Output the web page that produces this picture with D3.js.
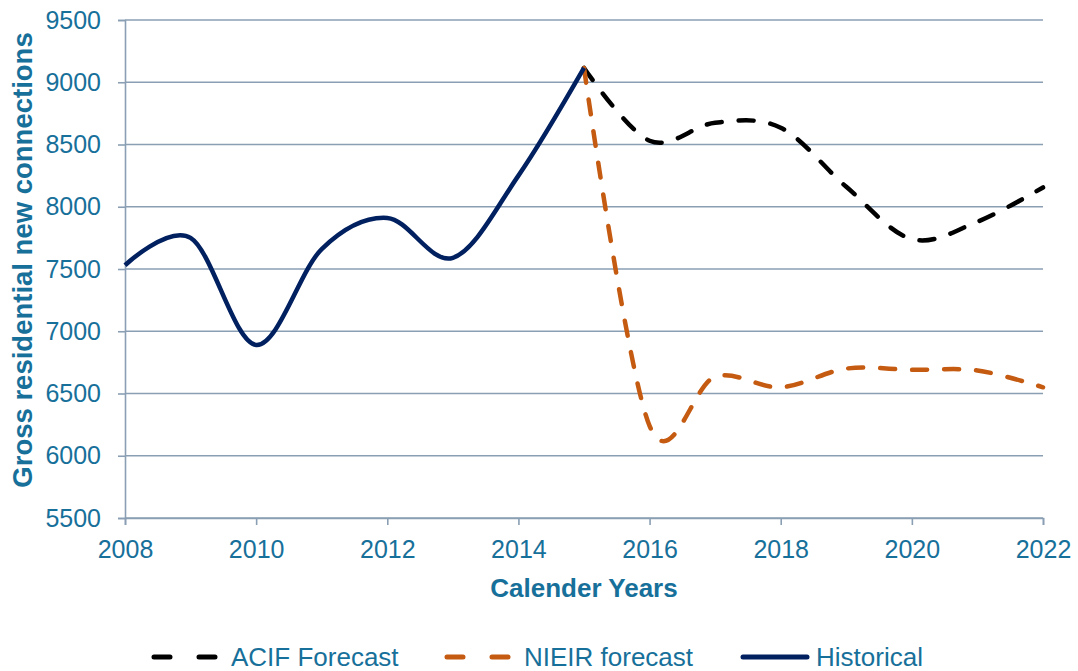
<!DOCTYPE html>
<html>
<head>
<meta charset="utf-8">
<script src="https://cdn.jsdelivr.net/npm/d3@7"></script>
<style>
  body { margin: 0; background: #fff; }
  text { font-family: "Liberation Sans", Arial, sans-serif; fill: #17709A; }
</style>
</head>
<body>
<svg id="chart" width="1078" height="671"></svg>
<script>
// data
var years = [2008, 2009, 2010, 2011, 2012, 2013, 2014, 2015, 2016, 2017, 2018, 2019, 2020, 2021, 2022];
var historical = [7530, 7750, 6890, 7660, 7910, 7590, 8250, 9115];
var acifYears = [2015, 2016, 2017, 2018, 2019, 2020, 2021, 2022];
var acif = [9115, 8530, 8675, 8635, 8160, 7740, 7880, 8155];
var nieir = [9115, 6240, 6635, 6550, 6700, 6690, 6685, 6550];
var yTicks = [5500, 6000, 6500, 7000, 7500, 8000, 8500, 9000, 9500];
var xTicks = [2008, 2010, 2012, 2014, 2016, 2018, 2020, 2022];

var svg = d3.select('#chart');
var pLeft = 125, pRight = 1043, pTop = 20, pBottom = 518;

var x = d3.scaleLinear().domain([2008, 2022]).range([pLeft, pRight]);
var y = d3.scaleLinear().domain([5500, 9500]).range([pBottom, pTop]);

var gridColor = '#8A9FB4';

// gridlines
svg.append('g')
    .selectAll('line')
    .data(yTicks)
    .enter().append('line')
    .attr('x1', pLeft).attr('x2', pRight)
    .attr('y1', d => y(d)).attr('y2', d => y(d))
    .attr('stroke', gridColor)
    .attr('stroke-width', 1.6);

// y axis
var yAxis = svg.append('g')
    .attr('transform', 'translate(' + pLeft + ',0)')
    .call(d3.axisLeft(y).tickValues(yTicks).tickSize(7).tickPadding(17).tickFormat(d3.format('d')));

// x axis
var xAxis = svg.append('g')
    .attr('transform', 'translate(0,' + pBottom + ')')
    .call(d3.axisBottom(x).tickValues(xTicks).tickSize(7).tickPadding(13).tickFormat(d3.format('d')));

[yAxis, xAxis].forEach(function (g) {
    g.select('.domain').attr('stroke', gridColor).attr('stroke-width', 1.6);
    g.selectAll('.tick line').attr('stroke', gridColor).attr('stroke-width', 1.6);
    g.selectAll('.tick text')
        .attr('fill', '#17709A')
        .style('font-size', '25px')
        .style('font-family', '"Liberation Sans", Arial, sans-serif');
});
xAxis.selectAll('.tick text').attr('dy', '0.8em');

// axis titles
svg.append('text')
    .attr('x', 584).attr('y', 597)
    .attr('text-anchor', 'middle')
    .style('font-size', '26px').style('font-weight', 'bold')
    .text('Calender Years');

svg.append('text')
    .attr('transform', 'translate(32,' + 260 + ') rotate(-90)')
    .attr('text-anchor', 'middle')
    .style('font-size', '27.5px').style('font-weight', 'bold')
    .text('Gross residential new connections');

var curve = d3.curveCardinal.tension(0);

var line = d3.line()
    .x(d => x(d[0]))
    .y(d => y(d[1]))
    .curve(curve);

var series = [
    { name: 'ACIF Forecast', color: '#000000', dash: '15,17', pts: d3.zip(acifYears, acif) },
    { name: 'NIEIR forecast', color: '#C55A11', dash: '15,17', pts: d3.zip(acifYears, nieir) },
    { name: 'Historical', color: '#002060', dash: null, pts: d3.zip(years.slice(0, historical.length), historical) }
];

svg.append('g')
    .selectAll('path')
    .data(series)
    .enter().append('path')
    .attr('d', d => line(d.pts))
    .attr('fill', 'none')
    .attr('stroke', d => d.color)
    .attr('stroke-width', 4.5)
    .attr('stroke-linecap', d => d.dash ? 'round' : 'butt')
    .attr('stroke-linejoin', 'round')
    .attr('stroke-dasharray', d => d.dash);

// legend
var legendX = [152, 445, 741];
var legend = svg.append('g')
    .selectAll('g')
    .data(series)
    .enter().append('g')
    .attr('transform', (d, i) => 'translate(' + legendX[i] + ',657)');

legend.append('line')
    .attr('x1', 2).attr('x2', 66)
    .attr('stroke', d => d.color)
    .attr('stroke-width', 5)
    .attr('stroke-linecap', 'round')
    .attr('stroke-dasharray', d => d.dash ? '16,29' : null);

legend.append('text')
    .attr('x', (d, i) => i === 2 ? 75 : 79)
    .attr('dy', '0.35em')
    .style('font-size', '26px')
    .text(d => d.name);
</script>
</body>
</html>
